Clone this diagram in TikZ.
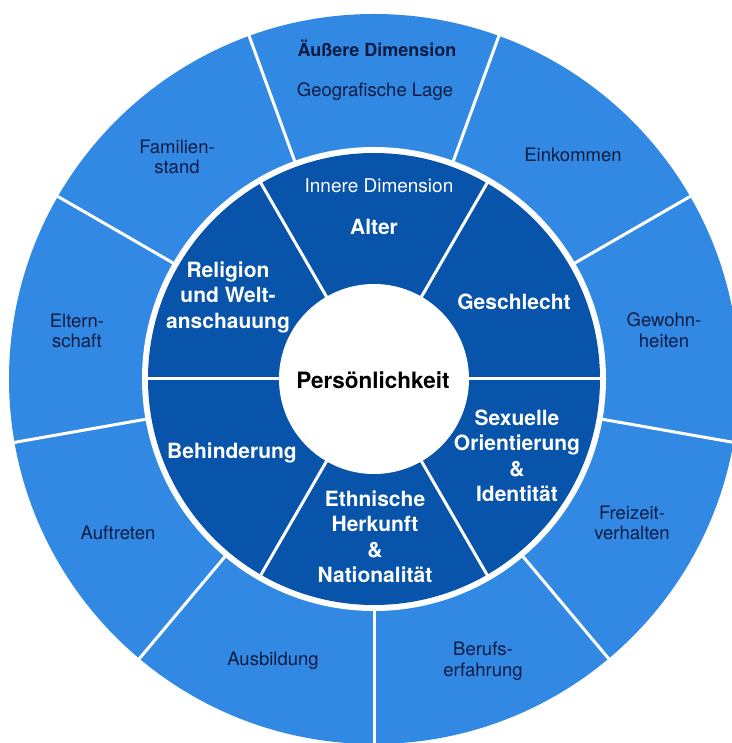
\documentclass[tikz,border=0pt]{standalone}
\usepackage{fontspec}
\setmainfont{TeX Gyre Heros}
\definecolor{outerblue}{RGB}{50,137,228}
\definecolor{innerblue}{RGB}{8,84,170}
\definecolor{navytext}{RGB}{14,28,66}
\tikzset{
  outerlabel/.style={text=navytext, align=center, font=\fontsize{18.5}{20.5}\selectfont, inner sep=0pt},
  innerlabel/.style={text=white, align=center, font=\fontsize{21}{25.5}\selectfont\bfseries, inner sep=0pt},
  sepline/.style={draw=white, line width=3pt}
}
\begin{document}
\begin{tikzpicture}[x=1pt,y=1pt]
\useasboundingbox (-374,-364) rectangle (357,379);
% rings
\fill[outerblue] (0,0) circle (365);
\foreach \a in {110,70,30,-10,-50,-90,-130,-170,150}
  \draw[sepline] (\a:228) -- (\a:370);
\fill[white] (0,0) circle (232);
\fill[innerblue] (0,0) circle (226);
\foreach \a in {0,60,120,180,240,300}
  \draw[sepline] (\a:90) -- (\a:227);
\fill[white] (0,0) circle (95);
% outer labels
\node[outerlabel, font=\fontsize{18}{20.5}\selectfont\bfseries] (outerdim) at (3,331) {Äußere Dimension};
\node[outerlabel] (geo) at (1,287) {Geografische Lage};
\node[outerlabel] (eink) at (199,224) {Einkommen};
\node[outerlabel] (gew) at (290,49) {Gewohn-\\heiten};
\node[outerlabel] (frei) at (258,-144) {Freizeit-\\verhalten};
\node[outerlabel] (beruf) at (109,-282) {Berufs-\\erfahrung};
\node[outerlabel] (ausb) at (-101,-282) {Ausbildung};
\node[outerlabel] (auft) at (-256,-154) {Auftreten};
\node[outerlabel] (eltern) at (-297,48) {Eltern-\\schaft};
\node[outerlabel] (fam) at (-197,222) {Familien-\\stand};
% inner labels
\node[innerlabel, font=\fontsize{19}{22}\selectfont] (innerdim) at (5,193) {Innere Dimension};
\node[innerlabel] (alter) at (0,152) {Alter};
\node[innerlabel] (geschl) at (140,77) {Geschlecht};
\node[innerlabel] (sex) at (143,-77) {Sexuelle\\Orientierung\\\&\\Identität};
\node[innerlabel] (ethn) at (1,-158) {Ethnische\\Herkunft\\\&\\Nationalität};
\node[innerlabel] (behind) at (-142,-74) {Behinderung};
\node[innerlabel] (relig) at (-146,82) {Religion\\und Welt-\\anschauung};
% centre
\node[text=black, font=\fontsize{22.5}{26}\selectfont\bfseries, inner sep=0pt] (pers) at (-1,-1) {Persönlichkeit};
\end{tikzpicture}
\end{document}
